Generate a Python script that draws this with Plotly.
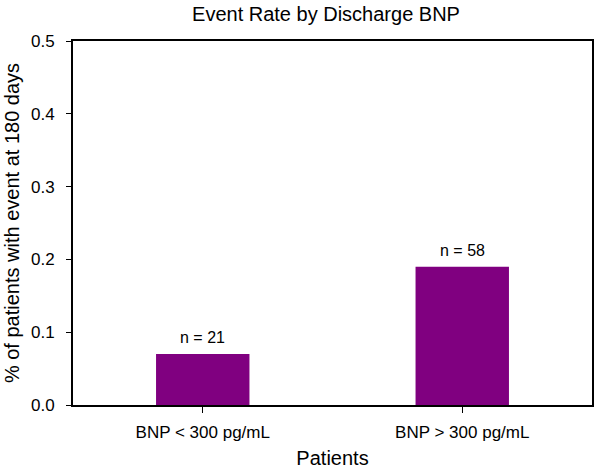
import plotly.graph_objects as go

categories = ["BNP < 300 pg/mL", "BNP > 300 pg/mL"]
event_rate = [0.07, 0.19]
n_labels = ["n = 21", "n = 58"]
y_ticks = [0.0, 0.1, 0.2, 0.3, 0.4, 0.5]

FONT = "Arial, Liberation Sans, Helvetica, sans-serif"

fig = go.Figure()
fig.add_trace(go.Bar(
    x=categories, y=event_rate,
    marker=dict(color="#800080", line=dict(width=0)),
    width=0.36,
    showlegend=False,
    hoverinfo="skip",
))

for c, v, t in zip(categories, event_rate, n_labels):
    fig.add_annotation(x=c, y=v, text=t, showarrow=False,
                       yanchor="bottom", yshift=6,
                       font=dict(family=FONT, size=16, color="black"))

fig.update_layout(
    width=600, height=474,
    margin=dict(l=73, r=6, t=41, b=69),
    paper_bgcolor="white", plot_bgcolor="white",
    font=dict(family=FONT, color="black"),
    title=dict(text="Event Rate by Discharge BNP", x=326/600, xanchor="center",
               y=1 - 14/474, yanchor="middle", yref="container",
               font=dict(family=FONT, size=20, color="black")),
)
fig.update_xaxes(
    range=[-0.5, 1.5],
    showline=True, linecolor="black", linewidth=2, mirror=True,
    ticks="outside", ticklen=6, tickcolor="black", tickwidth=1,
    tickfont=dict(family=FONT, size=17, color="black"),
    ticklabelstandoff=5,
    title=dict(text="Patients", font=dict(family=FONT, size=20, color="black"), standoff=10),
    showgrid=False, zeroline=False,
)
fig.update_yaxes(
    range=[0, 0.5], tickvals=y_ticks, tickformat=".1f",
    showline=True, linecolor="black", linewidth=2, mirror=True,
    ticks="outside", ticklen=5, tickcolor="black", tickwidth=1,
    tickfont=dict(family=FONT, size=17, color="black"),
    ticklabelstandoff=8,
    title=dict(text="% of patients with event at 180 days",
               font=dict(family=FONT, size=20, color="black"), standoff=6),
    showgrid=False, zeroline=False,
)

fig.write_html("out.html",
               config={"displayModeBar": False},
               post_script="document.body.style.margin='0';document.body.style.padding='0';")
